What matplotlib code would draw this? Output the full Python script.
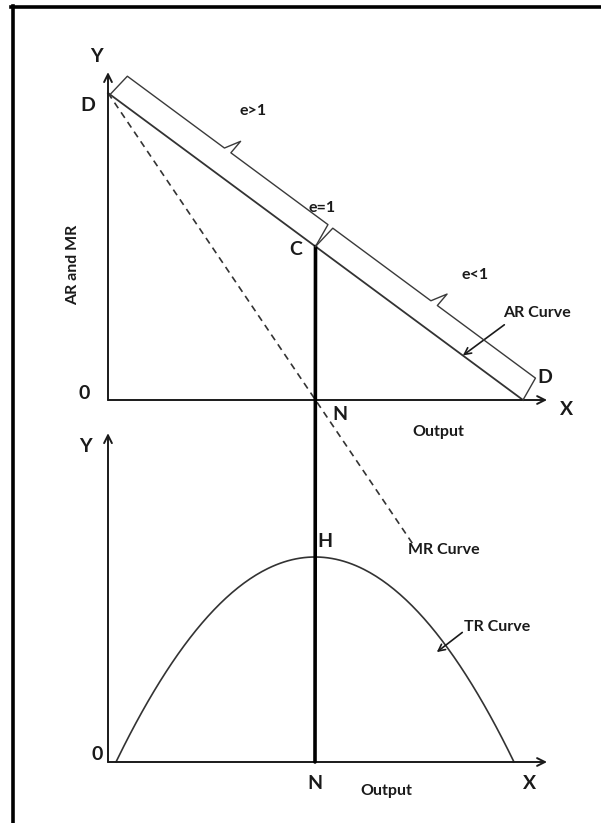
import numpy as np
import matplotlib
matplotlib.use("Agg")
import matplotlib.pyplot as plt
from matplotlib.patches import ConnectionPatch
from matplotlib.lines import Line2D

# economic values (price and output units)
ar_intercept = 10.0       # point D on the price axis
ar_slope = 1.0            # AR = a - b*Q
q_max = ar_intercept / ar_slope   # AR meets the output axis
q_unit = q_max / 2        # unit elasticity output (point C / N / H)
mr_end_q = 7.35           # where the dashed MR line stops
brace_labels = ["e>1", "e<1"]

q = np.linspace(0, q_max, 200)
ar = ar_intercept - ar_slope * q
q_mr = np.linspace(0, mr_end_q, 50)
mr = ar_intercept - 2 * ar_slope * q_mr
tr = q * (ar_intercept - ar_slope * q)

W, H = 601, 823
fig = plt.figure(figsize=(W / 100, H / 100), dpi=100)
font = ["Lato", "DejaVu Sans"]
ink = "#1a1a1a"


def px_box(left, top, right, bottom):
    return [left / W, 1 - bottom / H, (right - left) / W, (bottom - top) / H]


ax = fig.add_axes(px_box(108, 93, 523, 400))
ax.set_xlim(0, q_max)
ax.set_ylim(0, ar_intercept)
ax.axis("off")

ax2 = fig.add_axes(px_box(116, 557, 514, 762))
ax2.set_xlim(0, q_max)
ax2.set_ylim(0, tr.max())
ax2.axis("off")

# frame round the picture (left and top edges)
fig.add_artist(Line2D([12.5 / W, 12.5 / W], [0, 1 - 6 / H], color="black", lw=2.6,
                      transform=fig.transFigure))
fig.add_artist(Line2D([11 / W, 1], [1 - 6.5 / H, 1 - 6.5 / H], color="black", lw=2.6,
                      transform=fig.transFigure))

arrow = dict(arrowstyle="->", color=ink, lw=1.4, mutation_scale=14, shrinkA=0, shrinkB=0)

# top panel axes
ax.annotate("", xy=(10.58, 0), xytext=(0, 0), arrowprops=arrow, annotation_clip=False)
ax.annotate("", xy=(0, 10.68), xytext=(0, 0), arrowprops=arrow, annotation_clip=False)

# AR and MR
ax.plot(q, ar, color="#333333", lw=1.3, clip_on=False)
ax.plot(q_mr, mr, color="#333333", lw=1.2, ls=(0, (4, 3)), clip_on=False)

# bottom panel axes
x0b = (108 - 116) / 39.8
ax2.annotate("", xy=(10.83, 0), xytext=(x0b, 0), arrowprops=arrow, annotation_clip=False)
ax2.annotate("", xy=(x0b, 40.1), xytext=(x0b, 0), arrowprops=arrow, annotation_clip=False)
ax2.plot(q, tr, color="#333333", lw=1.2, clip_on=False)

# vertical line C - N - N
c_val = ar_intercept - ar_slope * q_unit
con = ConnectionPatch(xyA=(q_unit, c_val), coordsA=ax.transData,
                      xyB=(q_unit, 0), coordsB=ax2.transData,
                      color="black", lw=2.6)
fig.add_artist(con)


def brace(q1, q2, off=25, tick=15):
    # curly-bracket outline parallel to the AR line, drawn in pixels
    a = ax.transData.transform((q1, ar_intercept - ar_slope * q1))
    b = ax.transData.transform((q2, ar_intercept - ar_slope * q2))
    u = (b - a) / np.hypot(*(b - a))
    n = np.array([-u[1], u[0]])
    m = (a + b) / 2
    pts = [a, a + n * off + u * 3, m + n * off - u * 4, m + n * (off + tick) + u * 5,
           m + n * off + u * 4, b + n * off - u * 3, b]
    pts = fig.transFigure.inverted().transform(np.array(pts))
    fig.add_artist(Line2D(pts[:, 0], pts[:, 1], color="#3a3a3a", lw=1.0,
                          transform=fig.transFigure))


brace(0.05, q_unit)
brace(q_unit, q_max)

tk = dict(family=font, fontweight="bold", color=ink, ha="center", va="center")
big, small = 14, 11.5

# labels top panel
ax.text(-0.27, 11.2, "Y", fontsize=big, clip_on=False, **tk)
ax.text(-0.48, 9.6, "D", fontsize=big, **tk)
ax.text(-0.58, 0.2, "0", fontsize=big, **tk)
ax.text(11.06, -0.3, "X", fontsize=big, **tk)
ax.text(5.6, -0.48, "N", fontsize=big, **tk)
ax.text(7.95, -1.05, "Output", fontsize=small, **tk)
ax.text(4.53, 4.9, "C", fontsize=big, **tk)
ax.text(10.52, 0.72, "D", fontsize=big, **tk)
ax.text(-0.84, 4.4, "AR and MR", fontsize=small, rotation=90, **tk)
ax.text(3.5, 9.4, brace_labels[0], fontsize=small, **tk)
ax.text(5.15, 6.26, "e=1", fontsize=small, **tk)
ax.text(8.85, 4.07, brace_labels[1], fontsize=small, **tk)
ax.text(10.34, 2.83, "AR Curve", fontsize=small, **tk)
ax.annotate("", xy=(8.55, ar_intercept - ar_slope * 8.55), xytext=(9.55, 2.45),
            arrowprops=dict(arrowstyle="->", color=ink, lw=1.2, mutation_scale=12,
                            shrinkA=0, shrinkB=0), annotation_clip=False)
ax.text(8.1, -4.9, "MR Curve", fontsize=small, **tk)

# labels bottom panel
ax2.text(-0.78, 38.5, "Y", fontsize=big, **tk)
ax2.text(-0.48, 0.9, "0", fontsize=big, **tk)
ax2.text(4.99, -2.6, "N", fontsize=big, **tk)
ax2.text(6.78, -3.5, "Output", fontsize=small, **tk)
ax2.text(10.4, -2.6, "X", fontsize=big, **tk)
ax2.text(5.25, 26.9, "H", fontsize=big, **tk)
ax2.text(9.57, 16.5, "TR Curve", fontsize=small, **tk)
ax2.annotate("", xy=(8.06, 13.4), xytext=(8.7, 15.8),
             arrowprops=dict(arrowstyle="->", color=ink, lw=1.2, mutation_scale=12,
                             shrinkA=0, shrinkB=0), annotation_clip=False)

fig.savefig("out.png", dpi=100, facecolor="white")
